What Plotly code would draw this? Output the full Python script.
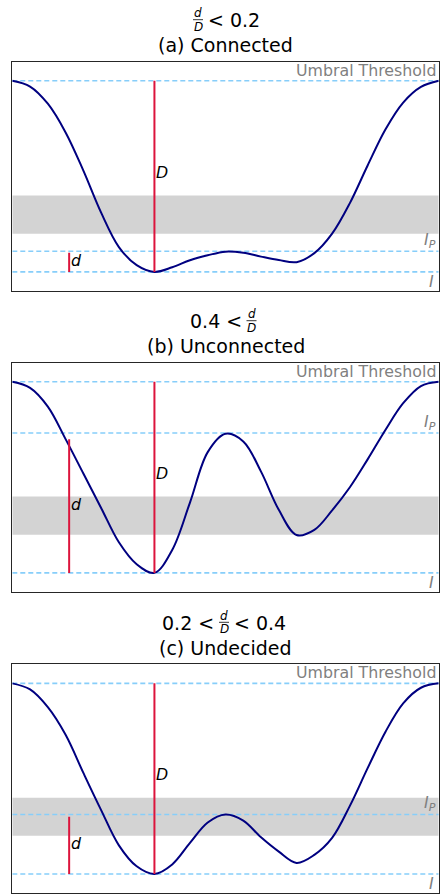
import plotly.graph_objects as go

# Intensity profile along the cut, sampled every 0.125 length units; y is normalised
# so that the umbral threshold is 1 and the deepest minimum I is 0
profile_x = [0.0, 0.125, 0.25, 0.375, 0.5, 0.625, 0.75, 0.875, 1.0,
             1.125, 1.25, 1.375, 1.5, 1.625, 1.75, 1.875, 2.0,
             2.125, 2.25, 2.375, 2.5, 2.625, 2.75, 2.875, 3.0]

connected_y = [1.0, 0.970, 0.88, 0.73, 0.53, 0.31, 0.13, 0.035, 0.0,
               0.024, 0.061, 0.087, 0.106, 0.100, 0.080, 0.062, 0.051,
               0.098, 0.20, 0.36, 0.557, 0.745, 0.886, 0.968, 1.0]

unconnected_y = [1.0, 0.968, 0.87, 0.70, 0.52, 0.34, 0.16, 0.045, 0.0,
                 0.12, 0.368, 0.632, 0.728, 0.688, 0.53, 0.33, 0.198,
                 0.225, 0.327, 0.448, 0.594, 0.748, 0.888, 0.978, 1.0]

undecided_y = [1.0, 0.968, 0.875, 0.73, 0.53, 0.335, 0.15, 0.04, 0.0,
               0.05, 0.163, 0.27, 0.312, 0.28, 0.192, 0.117, 0.058,
               0.10, 0.189, 0.357, 0.555, 0.745, 0.895, 0.977, 1.0]

# Reference levels
umbral_level = 1.0
min_level = 0.0
penumbral_levels = [0.108, 0.732, 0.312]   # I_P for panels a, b, c
d_values = [0.1, 0.7, 0.3]                 # separation d for panels a, b, c
D_value = 1.0
d_pos = 0.4
D_pos = 1.0
ratio_band = [0.2, 0.4]

subtitles = ["(a) Connected", "(b) Unconnected", "(c) Undecided"]
ratio_left = ["", "0.4 <", "0.2 <"]
ratio_right = ["< 0.2", "", "< 0.4"]

profiles = [connected_y, unconnected_y, undecided_y]

# ---- layout geometry (pixels) ----
W, H = 441, 894
plot_left, plot_right = 12.3, 438.7
panel_tops = [61.7, 362.7, 664.3]
panel_bottoms = [291.0, 592.0, 893.0]
frac_centers = [198.0, 251.5, 224.0]
center_x = (plot_left + plot_right) / 2


def px(p):
    return p / W


def py(p):
    return 1 - p / H


FONT = "DejaVu Sans"
NAVY = "#000080"
CRIMSON = "#DC143C"
SKY = "#87CEFA"
GREY_TXT = "#808080"

fig = go.Figure()
shapes = []
annotations = []
layout = dict(
    width=W, height=H,
    margin=dict(l=0, r=0, t=0, b=0),
    paper_bgcolor="white", plot_bgcolor="white",
    showlegend=False,
    font=dict(family=FONT, color="black"),
)

for i in range(3):
    sfx = "" if i == 0 else str(i + 1)
    xa, ya = "x" + sfx, "y" + sfx
    axis_style = dict(showticklabels=False, ticks="", showgrid=False, zeroline=False,
                      showline=True, mirror=True, linecolor="#262626", linewidth=1.2,
                      fixedrange=True)
    layout["xaxis" + sfx] = dict(axis_style, range=[0, 3], anchor=ya,
                                 domain=[px(plot_left), px(plot_right)])
    layout["yaxis" + sfx] = dict(axis_style, range=[-0.1, 1.1], anchor=xa,
                                 domain=[py(panel_bottoms[i]), py(panel_tops[i])])

    # shaded d/D decision band
    shapes.append(dict(type="rect", xref=xa, yref=ya, x0=0, x1=3,
                       y0=ratio_band[0], y1=ratio_band[1],
                       fillcolor="#D3D3D3", line=dict(width=0), layer="below"))
    # dashed reference levels
    for lvl in (umbral_level, penumbral_levels[i], min_level):
        shapes.append(dict(type="line", xref=xa, yref=ya, x0=0, x1=3, y0=lvl, y1=lvl,
                           line=dict(color=SKY, width=1.6, dash="5px,3px"),
                           layer="below"))

    fig.add_trace(go.Scatter(x=profile_x, y=profiles[i], mode="lines", xaxis=xa, yaxis=ya,
                             line=dict(color=NAVY, width=2, shape="spline", smoothing=1.0),
                             hoverinfo="skip"))
    # D and d markers
    fig.add_trace(go.Scatter(x=[D_pos, D_pos], y=[min_level, D_value], mode="lines",
                             xaxis=xa, yaxis=ya, line=dict(color=CRIMSON, width=2),
                             hoverinfo="skip"))
    fig.add_trace(go.Scatter(x=[d_pos, d_pos], y=[min_level, d_values[i]], mode="lines",
                             xaxis=xa, yaxis=ya, line=dict(color=CRIMSON, width=2),
                             hoverinfo="skip"))

    lbl = dict(xref=xa, yref=ya, showarrow=False, font=dict(family=FONT, size=15.8))
    annotations.append(dict(lbl, x=D_pos, y=D_value / 2, text="<i>D</i>",
                            xanchor="left", yanchor="middle", xshift=0, yshift=4))
    annotations.append(dict(lbl, x=d_pos, y=d_values[i] / 2, text="<i>d</i>",
                            xanchor="left", yanchor="middle", xshift=0, yshift=2))
    grey = dict(lbl, font=dict(family=FONT, size=15.8, color=GREY_TXT))
    annotations.append(dict(grey, x=3, y=umbral_level, text="Umbral Threshold",
                            xanchor="right", yanchor="bottom", xshift=-1, yshift=-1))
    annotations.append(dict(grey, x=3, y=penumbral_levels[i],
                            text="<i>I</i><sub><i>P</i></sub>",
                            xanchor="right", yanchor="bottom", xshift=-1, yshift=-2))
    annotations.append(dict(grey, x=3, y=min_level, text="<i>I</i>",
                            xanchor="right", yanchor="top", xshift=-3, yshift=2))

    # two-line title: ratio condition with a stacked fraction, then the case name
    top = panel_tops[i]
    ttl = dict(xref="paper", yref="paper", showarrow=False)
    annotations.append(dict(ttl, x=px(center_x), y=py(top - 16.5), text=subtitles[i],
                            xanchor="center", yanchor="middle",
                            font=dict(family=FONT, size=19)))
    fc = frac_centers[i]
    line1 = top - 41.5
    annotations.append(dict(ttl, x=px(fc), y=py(line1 - 7), text="<i>d</i>",
                            xanchor="center", yanchor="middle",
                            font=dict(family=FONT, size=12)))
    annotations.append(dict(ttl, x=px(fc), y=py(line1 + 6.5), text="<i>D</i>",
                            xanchor="center", yanchor="middle",
                            font=dict(family=FONT, size=12)))
    shapes.append(dict(type="line", xref="paper", yref="paper",
                       x0=px(fc - 5), x1=px(fc + 5), y0=py(line1 - 0.5), y1=py(line1 - 0.5),
                       line=dict(color="black", width=0.8)))
    if ratio_left[i]:
        annotations.append(dict(ttl, x=px(fc - 8), y=py(line1), text=ratio_left[i],
                                xanchor="right", yanchor="middle",
                                font=dict(family=FONT, size=19)))
    if ratio_right[i]:
        annotations.append(dict(ttl, x=px(fc + 8), y=py(line1), text=ratio_right[i],
                                xanchor="left", yanchor="middle",
                                font=dict(family=FONT, size=19)))

layout["shapes"] = shapes
layout["annotations"] = annotations
fig.update_layout(**layout)
fig.write_html("out.html")
